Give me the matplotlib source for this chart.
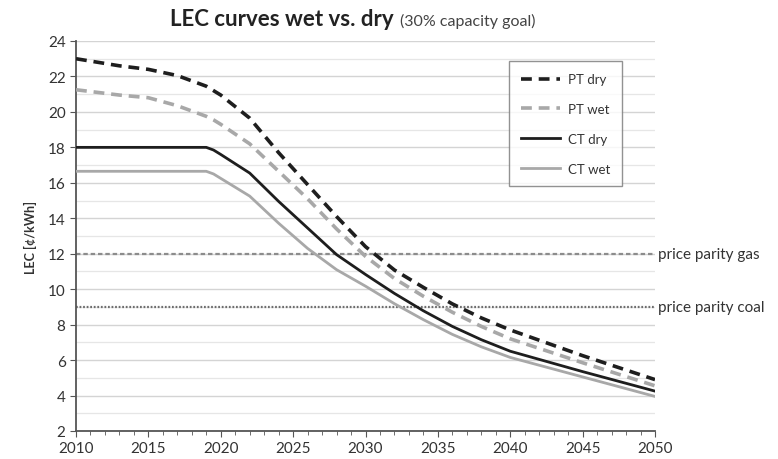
import numpy as np
import matplotlib
matplotlib.use("Agg")
import matplotlib.pyplot as plt
from matplotlib.ticker import MultipleLocator

plt.rcParams['font.family'] = ['Lato', 'DejaVu Sans']

# ---- data ----
years = [2010, 2013, 2015, 2017, 2019, 2019.5, 2020, 2022, 2024, 2026, 2028,
         2030, 2032, 2034, 2036, 2038, 2040, 2045, 2050]
pt_dry = [23.0, 22.6, 22.4, 22.05, 21.45, 21.2, 20.95, 19.65, 17.7, 15.9, 14.1,
          12.4, 11.08, 10.1, 9.17, 8.38, 7.7, 6.25, 4.9]
pt_wet = [21.25, 20.95, 20.8, 20.35, 19.75, 19.55, 19.3, 18.2, 16.65, 15.1, 13.4,
          11.85, 10.6, 9.6, 8.7, 7.9, 7.2, 5.85, 4.55]
ct_dry = [18.0, 18.0, 18.0, 18.0, 18.0, 17.85, 17.6, 16.55, 14.95, 13.45, 11.95,
          10.83, 9.76, 8.78, 7.9, 7.15, 6.5, 5.35, 4.25]
ct_wet = [16.65, 16.65, 16.65, 16.65, 16.65, 16.5, 16.25, 15.25, 13.72, 12.3, 11.1,
          10.17, 9.18, 8.28, 7.45, 6.75, 6.15, 5.05, 3.95]

parity_gas = 12
parity_coal = 9

fig = plt.figure(figsize=(7.78, 4.6), dpi=100)
ax = fig.add_axes([76 / 778, 28 / 460, 579 / 778, 390 / 460])

dark = '#1e1e1e'
light = '#a8a8a8'

# grid first so it sits under everything
ax.yaxis.set_major_locator(MultipleLocator(2))
ax.yaxis.set_minor_locator(MultipleLocator(1))
ax.xaxis.set_major_locator(MultipleLocator(5))
ax.xaxis.set_minor_locator(MultipleLocator(1))
ax.grid(axis='y', which='major', color='#d4d4d4', lw=1.0)
ax.grid(axis='y', which='minor', color='#e6e6e6', lw=0.9)
ax.set_axisbelow(True)

# parity lines
ax.axhline(parity_gas, color='#8c8c8c', lw=1.6, ls=(0, (2, 1.3)), zorder=2)
ax.axhline(parity_coal, color='#6e6e6e', lw=1.6, ls=(0, (0.8, 0.8)), zorder=2)
ax.text(2050.2, parity_gas, 'price parity gas', va='center', ha='left',
        fontsize=11, color='#333333')
ax.text(2050.2, parity_coal, 'price parity coal', va='center', ha='left',
        fontsize=11, color='#333333')

# curves
ax.plot(years, pt_dry, color=dark, lw=2.6, ls=(0, (3, 1.9)), label='PT dry', zorder=4)
ax.plot(years, pt_wet, color=light, lw=2.6, ls=(0, (3, 1.9)), label='PT wet', zorder=3)
ax.plot(years, ct_dry, color=dark, lw=2.0, label='CT dry', zorder=4)
ax.plot(years, ct_wet, color=light, lw=2.0, label='CT wet', zorder=3)

ax.set_xlim(2010, 2050)
ax.set_ylim(2, 24)

for s in ['top', 'right']:
    ax.spines[s].set_visible(False)
for s in ['left', 'bottom']:
    ax.spines[s].set_color('#555555')
    ax.spines[s].set_linewidth(1.3)

ax.tick_params(axis='both', which='major', direction='out', length=4,
               color='#555555', labelsize=11, labelcolor='#333333')
ax.tick_params(axis='x', which='minor', direction='out', length=3, color='#555555')
ax.tick_params(axis='y', which='minor', length=0)

ax.set_ylabel('LEC [¢/kWh]', fontsize=9, fontweight='bold', color='#333333', labelpad=8)

leg = ax.legend(loc='upper right', bbox_to_anchor=(0.955, 0.965), fontsize=9.5,
                frameon=True, fancybox=False, edgecolor='#777777',
                handlelength=3.0, labelspacing=1.35, borderpad=0.9,
                handletextpad=0.6)
leg.get_frame().set_linewidth(1.0)
for t in leg.get_texts():
    t.set_color('#333333')

# title: bold main part + small normal suffix right after it
t1 = fig.text(170 / 778, 1 - 20 / 460, 'LEC curves wet vs. dry', fontsize=16,
              fontweight='bold', color='#222222', va='center', ha='left')
fig.canvas.draw()
bb = t1.get_window_extent()
fig.text((bb.x1 + 6) / 778, 1 - 21 / 460, '(30% capacity goal)', fontsize=11.5,
         color='#444444', va='center', ha='left')

fig.savefig('out.png', dpi=100)
